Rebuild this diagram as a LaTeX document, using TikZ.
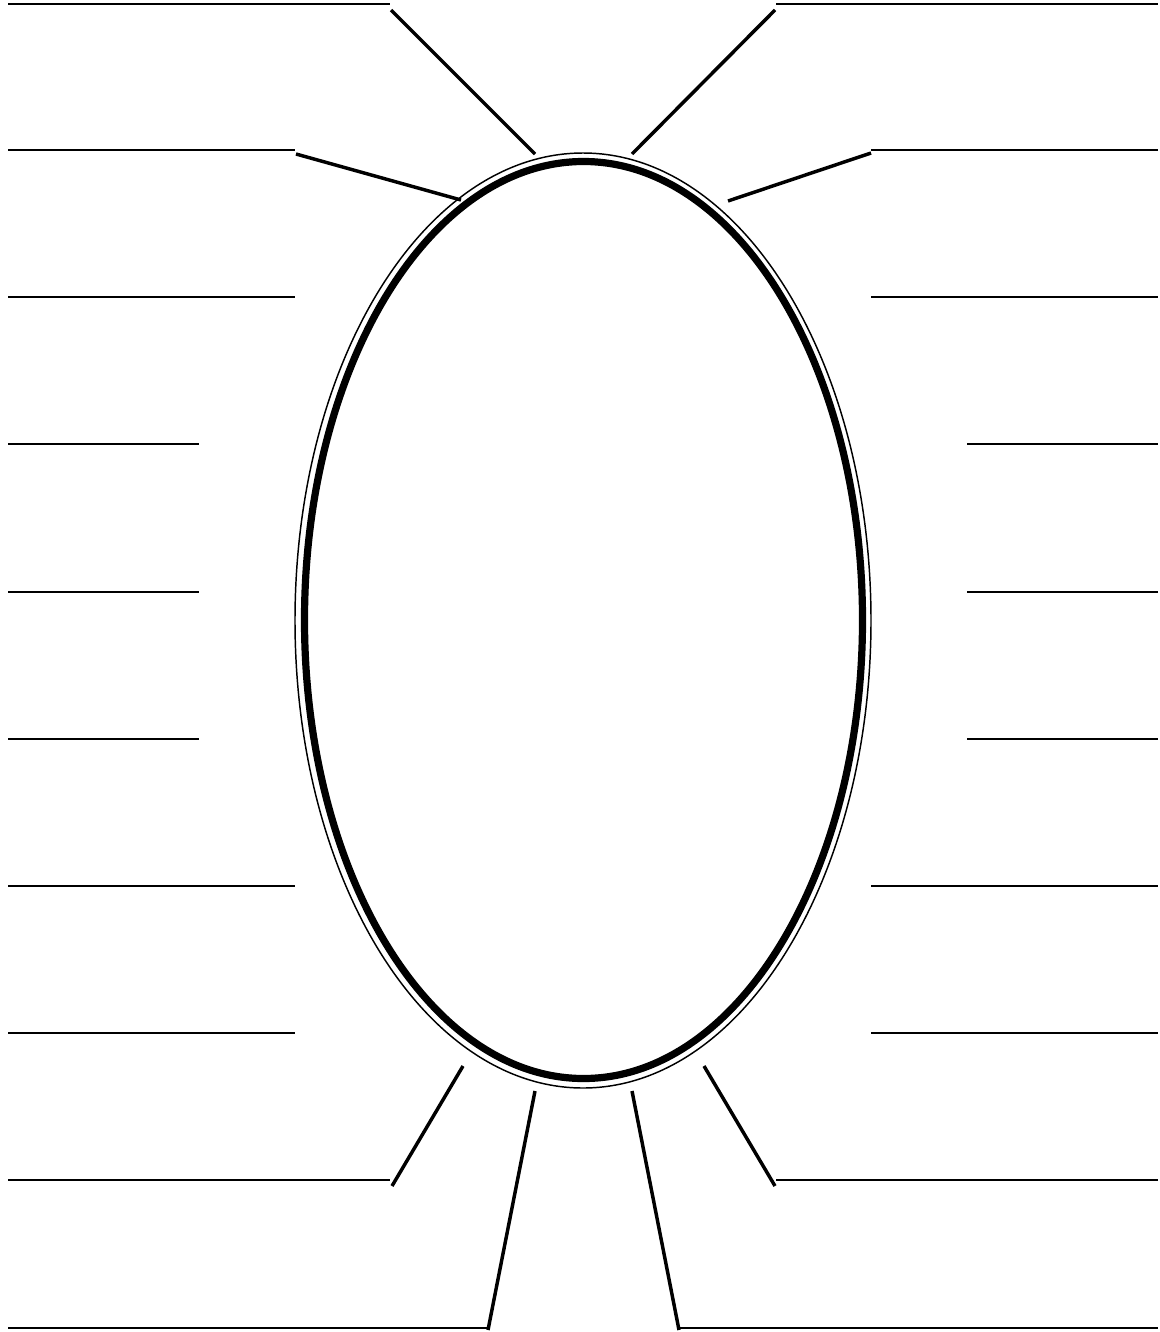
\documentclass[tikz,border=0pt]{standalone}
\begin{document}
\begin{tikzpicture}[x=0.75pt,y=-0.75pt,
  hline/.style={line width=1.1pt},
  spoke/.style={line width=2.6pt},
  ringthick/.style={line width=5.4pt},
  ringthin/.style={line width=1.1pt}]
\useasboundingbox (0,0) rectangle (1160,1332);
% ellipse
\draw[ringthin] (583,620.5) ellipse [x radius=288, y radius=467.5];
\draw[ringthick] (583.5,620) ellipse [x radius=279, y radius=458.5];
% left horizontal lines
\foreach \y/\x in {4/390,150/295,297/295,444/199,592/199,739/199,886/295,1033/295,1180/390,1328/487}
  \draw[hline] (8,\y) -- (\x,\y);
% right horizontal lines
\foreach \y/\x in {4/776,150/871,297/871,444/967,592/967,739/967,886/871,1033/871,1180/776,1328/679}
  \draw[hline] (\x,\y) -- (1158,\y);
% spokes
\draw[spoke] (391,10) -- (535,154);
\draw[spoke] (775,10) -- (632,154);
\draw[spoke] (296,154) -- (461,200);
\draw[spoke] (871,153) -- (728,201);
\draw[spoke] (463,1066) -- (392,1186);
\draw[spoke] (535,1091) -- (488,1330);
\draw[spoke] (632,1091) -- (679,1330);
\draw[spoke] (704,1066) -- (775,1186);
\end{tikzpicture}
\end{document}
